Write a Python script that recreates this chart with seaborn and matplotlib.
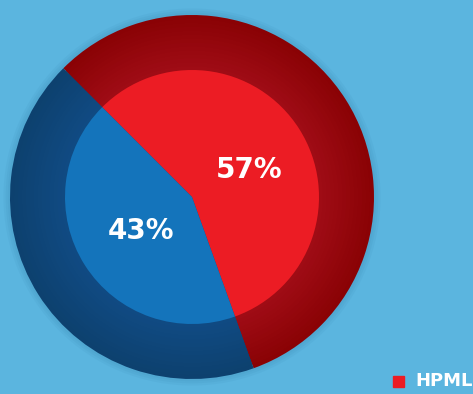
import matplotlib
matplotlib.use("Agg")
import matplotlib.pyplot as plt
import seaborn as sns
import numpy as np
from matplotlib.colors import to_rgb

labels = ["HPML", "Other"]
values = [57, 43]
pct_labels = ["57%", "43%"]

bg = "#5bb5df"
inner_colors = ["#ec1c24", "#1474bb"]
outer_in = ["#9f0c15", "#104a82"]
outer_out = ["#8a0205", "#0d416f"]

sns.set_theme(style="white")
plt.rcParams['font.family'] = ['DejaVu Sans']

fig = plt.figure(figsize=(4.73, 3.94), dpi=100, facecolor=bg)
W, H = 473, 394
cx, cy, R = 192, 197, 182
r_in = 127
ax = fig.add_axes([(cx - R) / W, 1 - (cy + R) / H, 2 * R / W, 2 * R / H])
ax.set_facecolor(bg)
ax.axis("off")

# subtle shadow
for k in range(3):
    ax.pie([1], radius=1.0 + 0.012 * (3 - k), colors=["#1b5f8a"],
           wedgeprops=dict(alpha=0.05, linewidth=0))

# outer ring gradient
n = 14
frac_in = r_in / R
for i in range(n):
    t = i / (n - 1)
    rad = 1.0 - (1.0 - frac_in) * i / n
    cols = []
    for a, b in zip(outer_out, outer_in):
        ca, cb = np.array(to_rgb(a)), np.array(to_rgb(b))
        cols.append(tuple(ca + (cb - ca) * t))
    ax.pie(values, radius=rad, colors=cols, startangle=135, counterclock=False,
           wedgeprops=dict(linewidth=0, antialiased=True))

# inner pie
ax.pie(values, radius=frac_in, colors=inner_colors, startangle=135, counterclock=False,
       wedgeprops=dict(linewidth=0))
ax.set_xlim(-1, 1)
ax.set_ylim(-1, 1)
ax.set_aspect("equal")

def to_data(px, py):
    return ((px - cx) / R, -(py - cy) / R)

for txt, (px, py) in zip(pct_labels, [(249, 170), (141, 231)]):
    x, y = to_data(px, py)
    ax.text(x, y, txt, color="white", fontsize=20, fontweight="heavy",
            ha="center", va="center")

# legend at bottom right
fig.patches.append(plt.Rectangle((393 / W, 1 - 387 / H), 11 / W, 11 / H,
                                 transform=fig.transFigure, color=inner_colors[0]))
fig.text(415 / W, 1 - 381.5 / H, labels[0], color="white", fontsize=13,
         fontweight="heavy", ha="left", va="center")

fig.savefig("out.png", dpi=100, facecolor=bg)
